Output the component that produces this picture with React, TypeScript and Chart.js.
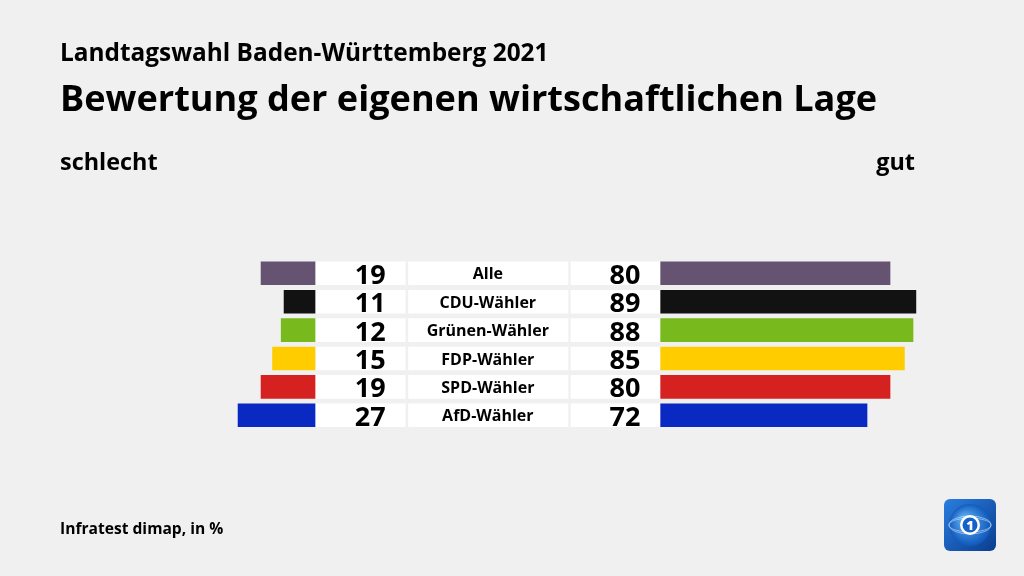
import React, { useEffect, useRef } from "react";
import { Chart, registerables } from "chart.js";

Chart.register(...registerables);

const supTitle = "Landtagswahl Baden-Württemberg 2021";
const mainTitle = "Bewertung der eigenen wirtschaftlichen Lage";
const leftHeader = "schlecht";
const rightHeader = "gut";
const sourceNote = "Infratest dimap, in %";

const categories = ["Alle", "CDU-Wähler", "Grünen-Wähler", "FDP-Wähler", "SPD-Wähler", "AfD-Wähler"];
const schlecht = [19, 11, 12, 15, 19, 27];
const gut = [80, 89, 88, 85, 80, 72];
const barColors = ["#665371", "#121212", "#78ba1e", "#ffcc00", "#d62121", "#0a29c2"];

// layout constants (scale units)
const BASE = 60; // half-width of center panel
const LEFT_BOX_END = -28.6;
const CAT_BOX = [-27.7, 28.0];
const RIGHT_BOX_START = 28.8;

const FONT = "'Open Sans', 'Noto Sans', sans-serif";

export default function App() {
  const ref = useRef<HTMLCanvasElement | null>(null);

  useEffect(() => {
    const canvas = ref.current;
    if (!canvas) return;

    const bgPlugin = {
      id: "bg",
      beforeDraw(chart: any) {
        const ctx = chart.ctx;
        ctx.save();
        ctx.fillStyle = "#f0f0f0";
        ctx.fillRect(0, 0, chart.width, chart.height);
        ctx.restore();
      },
    };

    const textPlugin = {
      id: "texts",
      afterDatasetsDraw(chart: any) {
        const ctx = chart.ctx;
        const x = chart.scales.x;
        const y = chart.scales.y;
        ctx.save();
        ctx.fillStyle = "#000";
        ctx.textAlign = "left";
        ctx.textBaseline = "alphabetic";
        ctx.font = `700 24.4px ${FONT}`;
        ctx.fillText(supTitle, 60, 61);
        ctx.font = `700 36.1px ${FONT}`;
        ctx.fillText(mainTitle, 60, 111);
        ctx.font = `700 23.4px ${FONT}`;
        ctx.fillText(leftHeader, 60, 170);
        ctx.textAlign = "right";
        ctx.fillText(rightHeader, 915, 170);
        ctx.textAlign = "left";
        ctx.font = `700 15.6px ${FONT}`;
        ctx.fillText(sourceNote, 60, 534);

        categories.forEach((c, i) => {
          const cy = y.getPixelForValue(i);
          ctx.font = `700 27px ${FONT}`;
          ctx.textAlign = "right";
          ctx.fillText(String(schlecht[i]), x.getPixelForValue(LEFT_BOX_END) - 20, cy + 10.5);
          ctx.fillText(String(gut[i]), x.getPixelForValue(BASE) - 20, cy + 10.5);
          ctx.font = `700 16px ${FONT}`;
          ctx.textAlign = "center";
          ctx.fillText(c, x.getPixelForValue(0), cy + 6);
        });

        // logo
        const lx = 944, ly = 499, ls = 52;
        const g = ctx.createLinearGradient(lx, ly, lx + ls, ly + ls);
        g.addColorStop(0, "#2a7ee0");
        g.addColorStop(1, "#0a3d8f");
        ctx.fillStyle = g;
        ctx.beginPath();
        (ctx as any).roundRect(lx, ly, ls, ls, 6);
        ctx.fill();
        const cx = lx + ls / 2, cyy = ly + ls / 2;
        const gg = ctx.createRadialGradient(cx - 6, cyy - 6, 2, cx, cyy, 22);
        gg.addColorStop(0, "#5fb0f5");
        gg.addColorStop(1, "#0b55b8");
        ctx.fillStyle = gg;
        ctx.beginPath();
        ctx.arc(cx, cyy, 21, 0, Math.PI * 2);
        ctx.fill();
        ctx.strokeStyle = "rgba(255,255,255,0.45)";
        ctx.lineWidth = 1;
        for (const r of [14, 18]) {
          ctx.beginPath();
          ctx.ellipse(cx, cyy, 21, r / 2, 0, 0, Math.PI * 2);
          ctx.stroke();
        }
        ctx.fillStyle = "#fff";
        ctx.beginPath();
        ctx.arc(cx, cyy, 10, 0, Math.PI * 2);
        ctx.fill();
        ctx.fillStyle = "#1663c7";
        ctx.beginPath();
        ctx.arc(cx, cyy, 7.5, 0, Math.PI * 2);
        ctx.fill();
        ctx.fillStyle = "#fff";
        ctx.font = `800 13px ${FONT}`;
        ctx.textAlign = "center";
        ctx.fillText("1", cx, cyy + 5);
        ctx.restore();
      },
    };

    const white = categories.map(() => "#ffffff");
    const chart = new Chart(canvas, {
      type: "bar",
      data: {
        labels: categories,
        datasets: [
          { data: schlecht.map((v) => [-BASE - v, -BASE]) as any, backgroundColor: barColors },
          { data: gut.map((v) => [BASE, BASE + v]) as any, backgroundColor: barColors },
          { data: categories.map(() => [-BASE, LEFT_BOX_END]) as any, backgroundColor: white },
          { data: categories.map(() => CAT_BOX) as any, backgroundColor: white },
          { data: categories.map(() => [RIGHT_BOX_START, BASE]) as any, backgroundColor: white },
        ],
      },
      options: {
        indexAxis: "y",
        responsive: false,
        animation: false,
        events: [],
        datasets: {
          bar: {
            grouped: false,
            barPercentage: 0.83,
            categoryPercentage: 1,
            borderWidth: 0,
            borderSkipped: false,
          } as any,
        },
        layout: { padding: { left: 200.35, right: 76.15, top: 259.1, bottom: 146.5 } },
        plugins: { legend: { display: false }, title: { display: false }, tooltip: { enabled: false } },
        scales: {
          x: { type: "linear", min: -100, max: 160, display: false },
          y: { type: "category", display: false, offset: true },
        },
      },
      plugins: [bgPlugin, textPlugin],
    });
    return () => chart.destroy();
  }, []);

  return (
    <div style={{ position: "fixed", left: 0, top: 0, width: 1024, height: 576 }}>
      <canvas ref={ref} width={1024} height={576} style={{ width: 1024, height: 576, display: "block" }} />
    </div>
  );
}
